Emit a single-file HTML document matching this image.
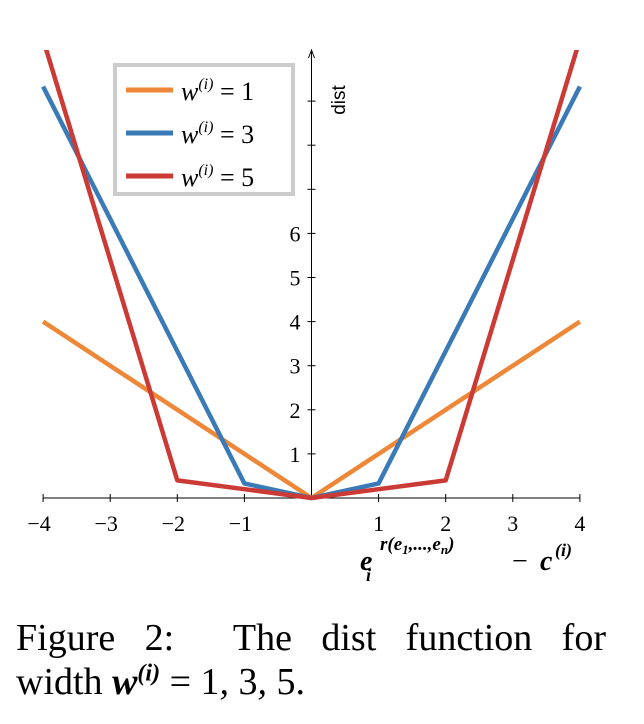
<!DOCTYPE html>
<html><head><meta charset="utf-8"><style>
body{margin:0;background:#fff;width:644px;height:724px;overflow:hidden}
.cap{position:absolute;left:16px;top:616px;width:590px;font-family:"Liberation Serif",serif;font-size:38px;line-height:44px;color:#000}
.l1{text-align:justify;text-align-last:justify}
.cap sup{line-height:0;font-size:24px;font-weight:bold;font-style:italic}
</style></head><body>
<svg width="644" height="600" style="position:absolute;left:0;top:0">
<defs><clipPath id="cp"><rect x="0" y="50" width="644" height="560"/></clipPath></defs>
<g id="axes" font-family="Liberation Serif, serif" font-size="22"></g>
<g id="lines" clip-path="url(#cp)"></g>
<g>
<rect x="115" y="65" width="178" height="129" fill="#fff" stroke="#ccc" stroke-width="4"/>
<g font-family="Liberation Serif, serif" font-size="26" font-style="italic" id="leg"></g>
</g>
<text x="345" y="100" transform="rotate(-90 345 100)" text-anchor="middle" font-family="Liberation Sans, sans-serif" font-size="19">dist</text>
<g font-family="Liberation Serif, serif" font-style="italic" font-weight="bold">
<text x="360" y="570" font-size="28">e</text>
<text x="366" y="581" font-size="18">i</text>
<text x="380" y="550" font-size="19">r(e<tspan font-size="13" dy="4">1</tspan><tspan dy="-4">,...,e</tspan><tspan font-size="13" dy="4">n</tspan><tspan dy="-4">)</tspan></text>
<text x="512" y="570" font-size="28" font-style="normal" font-weight="normal">−</text>
<text x="540" y="570" font-size="28">c</text>
<text x="555" y="556" font-size="18">(i)</text>
</g>
</svg>
<div class="cap"><div class="l1">Figure 2: &nbsp;The dist function for</div><div>width <b><i>w</i></b><sup>(i)</sup> = 1<i>,</i> 3<i>,</i> 5.</div></div>
<script>
const xs=[-4,-3,-2,-1,0,1,2,3,4];
const w1=[4,3,2,1,0,1,2,3,4];
const w3=[9.33,6.33,3.33,0.33,0,0.33,3.33,6.33,9.33];
const w5=[10.4,5.4,0.4,0.2,0,0.2,0.4,5.4,10.4];
const xTicks=[-4,-3,-2,-1,1,2,3,4];
const yTicks=[1,2,3,4,5,6,7,8,9];
const yLabels=[1,2,3,4,5,6];
const labels=["1","3","5"];
const colors=["#ee8838","#3a7ab6","#cc3a35"];
const X=v=>311.5+v*67.1, Y=v=>498-v*44.1;
const ns="http://www.w3.org/2000/svg";
function mk(t,a,p){const e=document.createElementNS(ns,t);for(const k in a)e.setAttribute(k,a[k]);p.appendChild(e);return e;}
const ax=document.getElementById('axes');
const xa=mk('line',{x1:X(-4),x2:X(4),y1:Y(0),y2:Y(0),stroke:'#000','stroke-width':1},ax);


const ya=mk('line',{x1:X(0),x2:X(0),y1:Y(0),y2:52,stroke:'#000','stroke-width':1},ax);


mk('path',{d:`M${X(0)-3},58 L${X(0)},50 L${X(0)+3},58`,fill:'none',stroke:'#000'},ax);
xTicks.forEach(v=>{mk('line',{x1:X(v),x2:X(v),y1:Y(0)-4,y2:Y(0)+4,stroke:'#000'},ax);
const t=mk('text',{x:X(v)-(v<0?4:0),y:Y(0)+33,'text-anchor':'middle'},ax);t.textContent=(v<0?'−':'')+Math.abs(v);

});
yTicks.forEach(v=>mk('line',{x1:X(0)-4,x2:X(0)+4,y1:Y(v),y2:Y(v),stroke:'#000'},ax));
yLabels.forEach(v=>{const t=mk('text',{x:X(0)-11,y:Y(v)+8,'text-anchor':'end'},ax);t.textContent=v;

});
const lg=document.getElementById('lines');
[w1,w3,w5].forEach((s,i)=>{const p=mk('polyline',{points:xs.map((x,j)=>X(x)+','+Y(s[j])).join(' '),fill:'none',stroke:colors[i],'stroke-width':4.5,'stroke-linejoin':'round'},lg);

});
const leg=document.getElementById('leg');
labels.forEach((l,i)=>{const y=90+i*43;
const s=mk('line',{x1:126,x2:173,y1:y,y2:y,stroke:colors[i],'stroke-width':5},leg);


const t=mk('text',{x:181,y:y+10},leg);
t.innerHTML='w<tspan font-size="16" dy="-11">(i)</tspan><tspan font-style="normal" dy="11"> = '+l+'</tspan>';

});
</script>
</body></html>
